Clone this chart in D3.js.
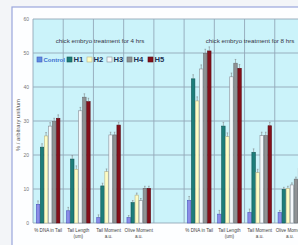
<!DOCTYPE html>
<html>
<head>
<meta charset="utf-8">
<script src="https://cdn.jsdelivr.net/npm/d3@7/dist/d3.min.js"></script>
<style>
  html, body { margin: 0; padding: 0; background: #f3f5f8; overflow: hidden; }
  svg { display: block; font-family: Arial, "Liberation Sans", sans-serif; }
</style>
</head>
<body>
<svg id="chart" width="298" height="245"></svg>
<script>
// ─── Data ─────────────────────────────────────────
const categories = ['dna4', 'len4', 'mom4', 'olive4', 'gap', 'dna8', 'len8', 'mom8', 'olive8'];
const categoryLabels = [
  ['% DNA in Tail'], ['Tail Length', '(um)'], ['Tail Moment', 'a.u.'], ['Olive Moment', 'a.u.'],
  [],
  ['% DNA in Tail'], ['Tail Length', '(um)'], ['Tail Moment', 'a.u.'], ['Olive Moment', 'a.u.']
];
const seriesNames = ['Control', 'H1', 'H2', 'H3', 'H4', 'H5'];

// one array per series, one value per category (null = empty gap)
const controlValues = [5.5, 3.6, 1.6, 1.6, null, 6.6, 2.6, 3.1, 3.1];
const h1Values      = [22.3, 18.8, 10.9, 6.0, null, 42.4, 28.5, 20.8, 9.9];
const h2Values      = [25.6, 15.8, 15.1, 8.2, null, 35.9, 25.4, 14.8, 10.2];
const h3Values      = [28.5, 33.0, 25.9, 6.6, null, 45.3, 43.0, 25.7, 11.2];
const h4Values      = [29.8, 37.0, 25.9, 10.2, null, 49.9, 47.0, 25.7, 12.9];
const h5Values      = [30.8, 35.7, 28.8, 10.2, null, 50.6, 45.5, 28.6, 16.1];
const errorValues   = [1.0, 1.0, 0.8, 0.6, null, 1.2, 1.1, 1.0, 0.6];

const yTicks = [0, 10, 20, 30, 40, 50, 60];
const panelTitles = ['chick embryo treatment for 4 hrs', 'chick embryo treatment for 8 hrs'];
const yAxisTitle = '% / arbitrary unit/um';

(function () {
  'use strict';

  const svg = d3.select('#chart');
  const allValues = [controlValues, h1Values, h2Values, h3Values, h4Values, h5Values];
  const fills   = ['#8c8ce6', '#1d7d7a', '#fdfcc4', '#f4f8fb', '#8f9294', '#840f1a'];
  const strokes = ['#4a55c0', '#0e5553', '#b8b48a', '#8a8e96', '#6a6d70', '#5a0810'];

  const plot = { left: 33, top: 19, bottom: 223, right: 305 };

  const x = d3.scaleBand().domain(categories).range([plot.left, plot.right]);
  const xs = d3.scaleBand().domain(seriesNames).range([3, x.bandwidth() - 3]);
  const y = d3.scaleLinear().domain([0, 60]).range([plot.bottom, plot.top]);

  // ─── Frame ────────────────────────────────────────
  svg.append('rect').attr('x', 12).attr('y', 7).attr('width', 300).attr('height', 250)
    .attr('fill', '#fdfeff').attr('stroke', '#9aa6dc').attr('stroke-width', 1.2);

  svg.append('rect')
    .attr('x', plot.left).attr('y', plot.top)
    .attr('width', plot.right - plot.left).attr('height', plot.bottom - plot.top)
    .attr('fill', '#cbf3fa');

  // ─── Gridlines ────────────────────────────────────
  const grid = svg.append('g').attr('stroke', '#93a8b8').attr('stroke-width', 0.9);
  yTicks.forEach(function (t) {
    grid.append('line')
      .attr('x1', plot.left).attr('x2', plot.right)
      .attr('y1', y(t)).attr('y2', y(t));
  });
  categories.forEach(function (c) {
    grid.append('line')
      .attr('x1', x(c)).attr('x2', x(c))
      .attr('y1', plot.top).attr('y2', plot.bottom);
  });

  // ─── Y axis ───────────────────────────────────────
  const yAxis = d3.axisLeft(y).tickValues(yTicks).tickSize(0).tickPadding(4);
  const gy = svg.append('g').attr('transform', `translate(${plot.left},0)`).call(yAxis);
  gy.select('.domain').remove();
  gy.selectAll('.tick text')
    .attr('fill', '#777').style('font-size', '5px').style('font-family', 'Arial, sans-serif');

  svg.append('text')
    .attr('transform', `translate(20, 125) rotate(-90)`)
    .attr('text-anchor', 'middle')
    .attr('fill', '#555')
    .style('font-size', '5.8px')
    .text(yAxisTitle);

  // ─── Bars ─────────────────────────────────────────
  const bars = svg.append('g');
  allValues.forEach(function (vals, si) {
    vals.forEach(function (v, ci) {
      if (v === null) return;
      const bx = x(categories[ci]) + xs(seriesNames[si]);
      bars.append('rect')
        .attr('x', bx + 0.3).attr('y', y(v))
        .attr('width', xs.bandwidth() - 0.6).attr('height', y(0) - y(v))
        .attr('fill', fills[si]).attr('stroke', strokes[si]).attr('stroke-width', 0.6);

      // error whisker
      const e = errorValues[ci];
      const cx = bx + xs.bandwidth() / 2;
      bars.append('line')
        .attr('x1', cx).attr('x2', cx).attr('y1', y(v)).attr('y2', y(v + e))
        .attr('stroke', '#777').attr('stroke-width', 0.5);
      bars.append('line')
        .attr('x1', cx - 0.8).attr('x2', cx + 0.8).attr('y1', y(v + e)).attr('y2', y(v + e))
        .attr('stroke', '#777').attr('stroke-width', 0.5);
    });
  });

  // ─── X labels ─────────────────────────────────────
  const xl = svg.append('g');
  categoryLabels.forEach(function (lines, ci) {
    lines.forEach(function (line, li) {
      xl.append('text')
        .attr('x', x(categories[ci]) + x.bandwidth() / 2)
        .attr('y', 232 + li * 6)
        .attr('text-anchor', 'middle')
        .attr('fill', '#444')
        .style('font-size', '4.6px')
        .text(line);
    });
  });

  // ─── Panel titles ─────────────────────────────────
  svg.append('text').attr('x', 100).attr('y', 43).attr('text-anchor', 'middle')
    .attr('fill', '#334').style('font-size', '6.2px').text(panelTitles[0]);
  svg.append('text').attr('x', 250).attr('y', 43).attr('text-anchor', 'middle')
    .attr('fill', '#334').style('font-size', '6.2px').text(panelTitles[1]);

  // ─── Legend ───────────────────────────────────────
  const legendX = [37, 67, 87, 107, 127, 148];
  const lg = svg.append('g');
  seriesNames.forEach(function (name, si) {
    lg.append('rect')
      .attr('x', legendX[si]).attr('y', 57).attr('width', 5).attr('height', 5)
      .attr('fill', si === 0 ? '#5b8fe0' : fills[si]).attr('stroke', strokes[si]).attr('stroke-width', 0.6);
    lg.append('text')
      .attr('x', legendX[si] + 6.5).attr('y', 62)
      .attr('fill', si === 0 ? '#3d6fd0' : '#223355')
      .style('font-size', si === 0 ? '6px' : '7.6px')
      .style('font-weight', 'bold')
      .text(name);
  });
})();
</script>
</body>
</html>
